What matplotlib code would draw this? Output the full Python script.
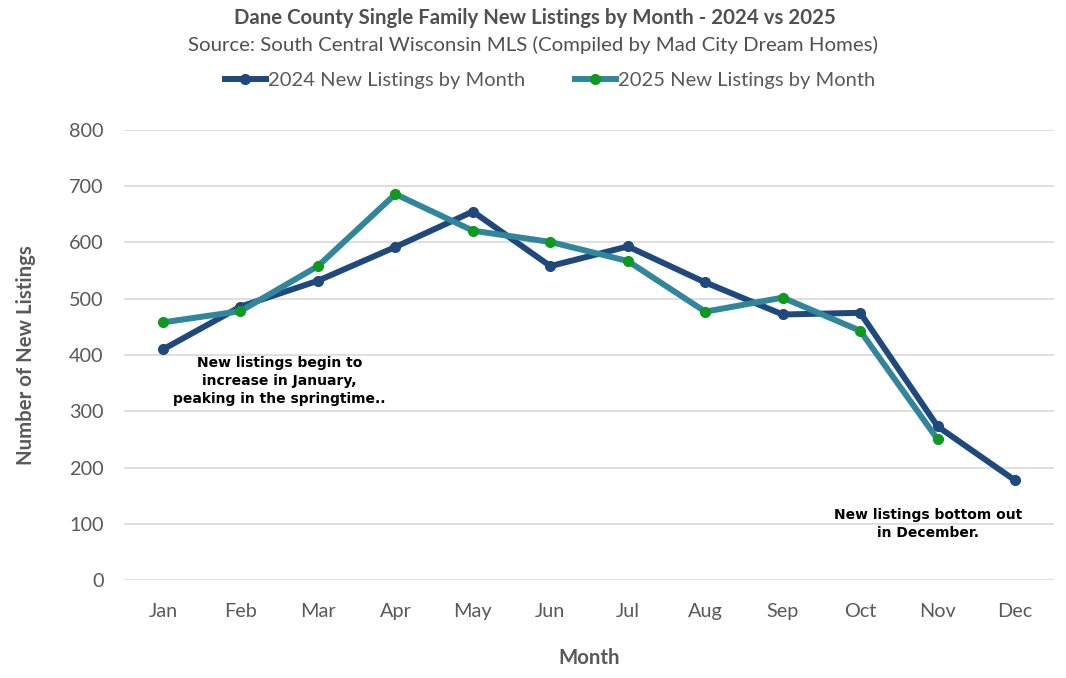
import matplotlib.pyplot as plt
import numpy as np

months = ["Jan", "Feb", "Mar", "Apr", "May", "Jun", "Jul", "Aug", "Sep", "Oct", "Nov", "Dec"]
listings_2024 = [410, 486, 532, 592, 655, 558, 593, 529, 472, 475, 273, 177]
listings_2025 = [458, 478, 558, 686, 621, 601, 567, 477, 502, 443, 250]
y_ticks = [0, 100, 200, 300, 400, 500, 600, 700, 800]

plt.rcParams['font.family'] = ['Lato', 'DejaVu Sans']

fig = plt.figure(figsize=(10.66, 6.78), dpi=100)
ax = fig.add_axes([0.1166, 0.1445, 0.872, 0.6638])

x = np.arange(len(months))
ax.plot(x, listings_2024, color='#1f497d', lw=4.3, marker='o', ms=7,
        mfc='#1f497d', mec='#1f497d', label="2024 New Listings by Month", zorder=3)
ax.plot(x[:len(listings_2025)], listings_2025, color='#31869b', lw=4.3, marker='o', ms=7,
        mfc='#0e9a1e', mec='#0e9a1e', label="2025 New Listings by Month", zorder=4)

ax.set_xlim(-0.5, 11.5)
ax.set_ylim(0, 800)
ax.set_yticks(y_ticks)
ax.set_xticks(x)
ax.set_xticklabels(months)
ax.grid(axis='y', color='#d9d9d9', lw=1.2)
ax.set_axisbelow(True)
for s in ax.spines.values():
    s.set_visible(False)
ax.tick_params(length=0, labelsize=14.3, colors='#595959')
ax.tick_params(axis='x', pad=16.5)
ax.tick_params(axis='y', pad=15)

ax.set_ylabel("Number of New Listings", fontsize=14.7, fontweight='bold', color='#595959', labelpad=24)
ax.set_xlabel("Month", fontsize=14.7, fontweight='bold', color='#595959', labelpad=20)

fig.text(0.502, 0.974, "Dane County Single Family New Listings by Month - 2024 vs 2025",
         ha='center', va='center', fontsize=14.7, fontweight='bold', color='#505050')
fig.text(0.500, 0.934, "Source: South Central Wisconsin MLS (Compiled by Mad City Dream Homes)",
         ha='center', va='center', fontsize=14.7, color='#505050')

leg = fig.legend(loc='center', bbox_to_anchor=(0.516, 0.882), ncol=2, frameon=False,
                 fontsize=14.5, handlelength=2.0, handletextpad=0.1, columnspacing=2.5,
                 labelcolor='#595959')

ax.text(1.5, 354, "New listings begin to\nincrease in January,\npeaking in the springtime..",
        ha='center', va='center', fontsize=10, fontweight='bold', family='DejaVu Sans',
        linespacing=1.35, color='black')
ax.text(9.88, 100, "New listings bottom out\nin December.",
        ha='center', va='center', fontsize=10, fontweight='bold', family='DejaVu Sans',
        linespacing=1.35, color='black')

fig.savefig("out.png", dpi=100)
